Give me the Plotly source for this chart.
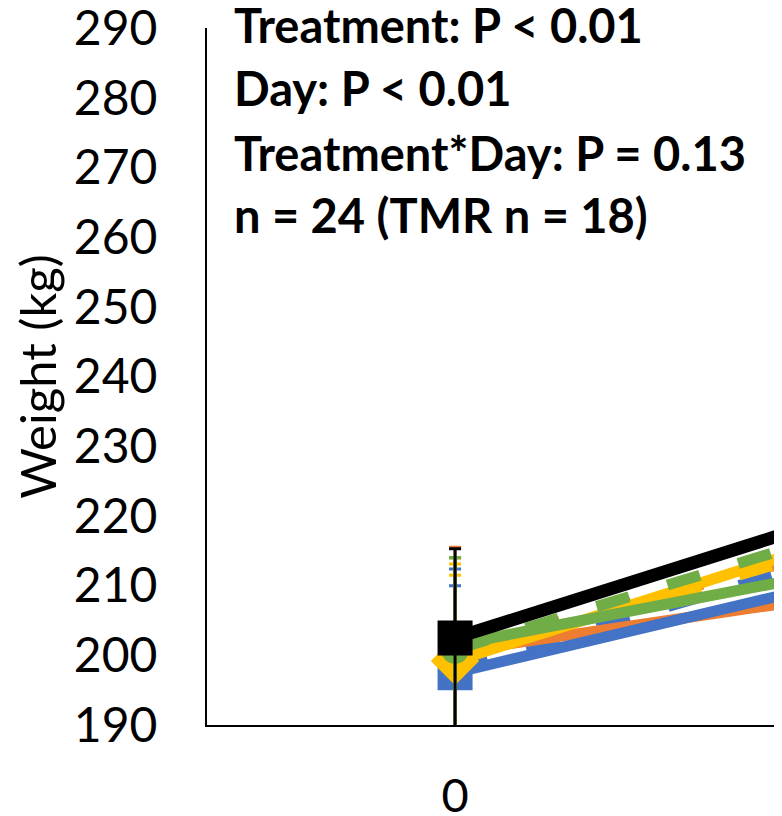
import plotly.graph_objects as go

# Category labels (second day falls outside the visible crop)
days = ["0", "28"]
weight_ticks = [190, 200, 210, 220, 230, 240, 250, 260, 270, 280, 290]

# Series values (kg) at each day
tmr_black = [202.5, 225.0]
orange_solid = [200.5, 211.0]
blue_solid = [197.5, 214.4]
yellow_solid = [199.2, 221.8]
green_solid = [201.5, 215.2]
orange_dash = [201.0, 219.5]
blue_dash = [198.0, 219.0]
yellow_dash = [199.5, 220.5]
green_dash = [200.8, 222.5]

# Standard errors at each day
err_black = [12.8, 12.8]
err_orange_solid = [15.0, 15.0]
err_blue_solid = [14.9, 14.9]
err_yellow_solid = [13.9, 13.9]
err_green_solid = [12.5, 12.5]
err_orange_dash = [13.0, 13.0]
err_blue_dash = [12.0, 12.0]
err_yellow_dash = [12.0, 12.0]
err_green_dash = [13.2, 13.2]

notes = ["Treatment: P < 0.01", "Day: P < 0.01", "Treatment*Day: P = 0.13", "n = 24 (TMR n = 18)"]

BLUE = "#4472C4"
ORANGE = "#ED7D31"
YELLOW = "#FFC000"
GREEN = "#70AD47"
BLACK = "#000000"

fig = go.Figure()


def add(y, err, color, width, dash, symbol, msize):
    fig.add_trace(go.Scatter(
        x=days, y=y, mode="lines+markers",
        line=dict(color=color, width=width, dash=dash),
        marker=dict(symbol=symbol, size=msize, color=color, line=dict(color=color, width=4)),
        error_y=dict(type="data", array=err, visible=True, color=color, thickness=3, width=6),
        showlegend=False, cliponaxis=True,
    ))


add(orange_dash, err_orange_dash, ORANGE, 11, "34px,40px", "circle", 22)
add(blue_dash, err_blue_dash, BLUE, 11, "34px,40px", "square", 22)
add(yellow_dash, err_yellow_dash, YELLOW, 11, "34px,40px", "diamond", 24)
add(orange_solid, err_orange_solid, ORANGE, 11, "solid", "triangle-up", 26)
add(blue_solid, err_blue_solid, BLUE, 11, "solid", "square", 31)
add(yellow_solid, err_yellow_solid, YELLOW, 11, "solid", "diamond", 33)
add(green_dash, err_green_dash, GREEN, 11, "34px,40px", "circle", 24)
add(green_solid, err_green_solid, GREEN, 11, "solid", "circle", 28)
add(tmr_black, err_black, BLACK, 13, "solid", "square", 31)

note_y = [1.005, 0.914, 0.82, 0.731]
for txt, yy in zip(notes, note_y):
    fig.add_annotation(
        text="<b>" + txt + "</b>", xref="paper", yref="paper",
        x=0.043, y=yy, xanchor="left", yanchor="middle", showarrow=False,
        font=dict(family="Lato", size=47, color="black"),
    )

# The page body adds an 8px offset, so the figure is 8px smaller on each side
fig.update_layout(
    width=774, height=808,
    margin=dict(l=199, r=0, t=20, b=91),
    paper_bgcolor="white", plot_bgcolor="white",
    font=dict(family="Lato", color="black"),
    xaxis=dict(
        type="category", categoryorder="array", categoryarray=days,
        range=[-0.5, 0.659], showgrid=False, zeroline=False, automargin=False,
        showline=True, linecolor="black", linewidth=2,
        ticks="", tickfont=dict(size=47, family="Lato"),
        ticklabelstandoff=29,
    ),
    yaxis=dict(
        range=[190, 290.05], tickmode="array", tickvals=weight_ticks,
        ticktext=[str(v) for v in weight_ticks], ticklabeloverflow="allow",
        showgrid=False, zeroline=False, automargin=False,
        showline=True, linecolor="black", linewidth=2,
        ticks="", tickfont=dict(size=48, family="Lato"),
        ticklabelstandoff=38,
        title=dict(text="Weight (kg)", font=dict(size=49, family="Lato"), standoff=13),
    ),
)

fig.write_html("out.html")
